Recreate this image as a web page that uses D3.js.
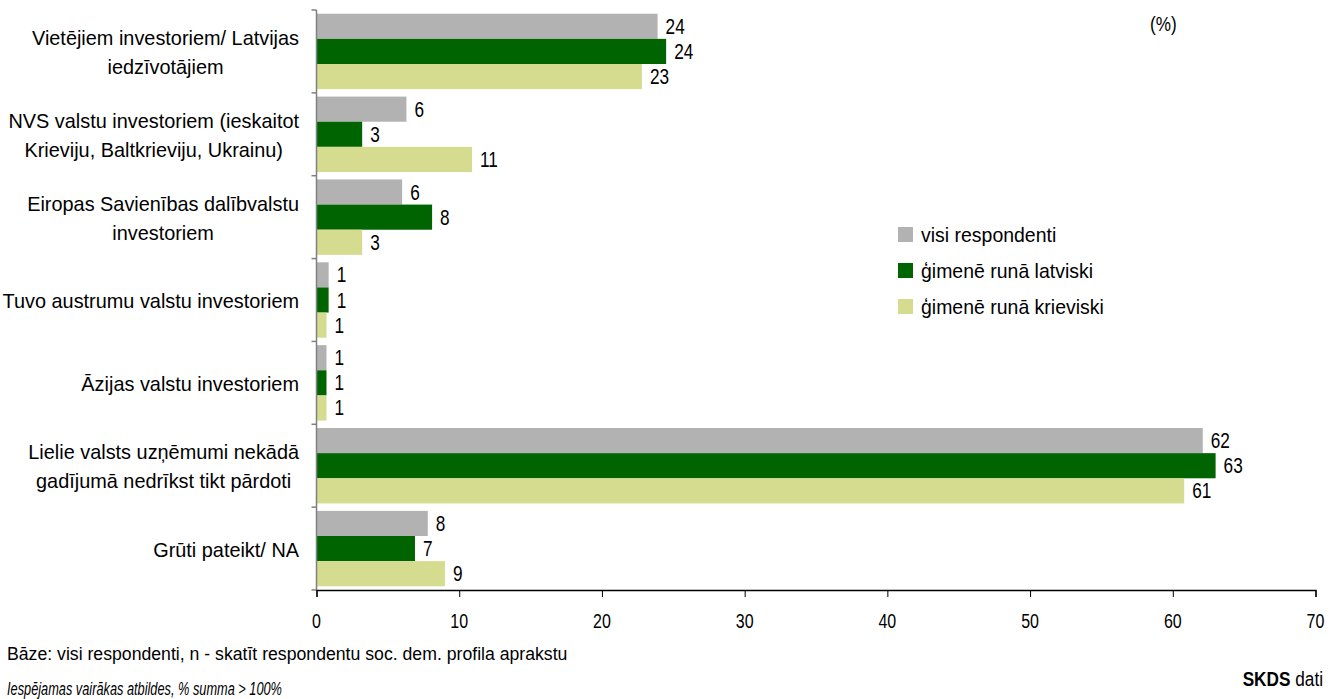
<!DOCTYPE html>
<html><head><meta charset="utf-8">
<script src="https://cdn.jsdelivr.net/npm/d3@7"></script>
<style>
body{margin:0;background:#fff;}
text{font-family:"Liberation Sans",Arial,sans-serif;fill:#000;}
</style></head><body>
<svg id="c" width="1336" height="699"></svg>
<script>
const categories = [
  ["Vietējiem investoriem/ Latvijas","iedzīvotājiem"],
  ["NVS valstu investoriem (ieskaitot","Krieviju, Baltkrieviju, Ukrainu)"],
  ["Eiropas Savienības dalībvalstu","investoriem"],
  ["Tuvo austrumu valstu investoriem"],
  ["Āzijas valstu investoriem"],
  ["Lielie valsts uzņēmumi nekādā","gadījumā nedrīkst tikt pārdoti"],
  ["Grūti pateikt/ NA"]
];
const seriesNames = ["visi respondenti","ģimenē runā latviski","ģimenē runā krieviski"];
const visi     = [23.9, 6.3, 6.0, 0.85, 0.7, 62.1, 7.8];
const latviski = [24.5, 3.2, 8.1, 0.85, 0.7, 63.0, 6.9];
const krieviski= [22.8, 10.9, 3.2, 0.7, 0.7, 60.8, 9.0];
const labelsVisi = [24, 6, 6, 1, 1, 62, 8];
const labelsLat  = [24, 3, 8, 1, 1, 63, 7];
const labelsKr   = [23, 11, 3, 1, 1, 61, 9];
const xTicks = [0,10,20,30,40,50,60,70];
const colors = ["#b2b2b2","#006400","#d5db8f"];

(function(){
const series = [visi, latviski, krieviski];
const labels = [labelsVisi, labelsLat, labelsKr];

const svg = d3.select("#c");
function txt(parent, X, Y, str, size, sx, anchor){
  return parent.append("text").attr("transform",`translate(${X},${Y}) scale(${sx},1)`)
    .attr("font-size",size).attr("text-anchor",anchor||"start").text(str);
}
const pl = 316.5, pr = 1315.5, pt = 10, pb = 590;
const x = d3.scaleLinear().domain([0,70]).range([pl,pr]);
const y = d3.scaleBand().domain(d3.range(categories.length)).range([pt,pb]).paddingInner(0.09).paddingOuter(0.045);
const ySub = d3.scaleBand().domain([0,1,2]).range([0,y.bandwidth()]);

series.forEach((vals,s)=>{
  svg.append("g").selectAll("rect").data(vals).join("rect")
    .attr("x", x(0)).attr("y",(d,i)=>y(i)+ySub(s))
    .attr("width", d=>x(d)-x(0)).attr("height", ySub.bandwidth())
    .attr("fill", colors[s]);
  const g = svg.append("g");
  vals.forEach((d,i)=>{
    txt(g, x(d)+8, y(i)+ySub(s)+ySub.bandwidth()/2+7.5, labels[s][i], 21.5, 0.8);
  });
});

const yb = d3.scaleLinear().domain([0,categories.length]).range([pt,pb]);
svg.append("line").attr("x1",pl).attr("x2",pl).attr("y1",pt).attr("y2",pb).attr("stroke","#808080").attr("stroke-width",1.5);
svg.append("g").selectAll("line").data(d3.range(categories.length+1)).join("line")
  .attr("x1",pl-5).attr("x2",pl).attr("y1",d=>yb(d)).attr("y2",d=>yb(d)).attr("stroke","#808080").attr("stroke-width",1.5);

const labRight = 299, labSx = 0.97, labSize = 20.5;
categories.forEach((lines,i)=>{
  const cy = yb(i+0.5);
  const n = lines.length;
  const g = svg.append("g");
  const nodes = lines.map((t,j)=> txt(g, 0, cy+(j-(n-1)/2)*29+8, t, labSize, labSx, "middle"));
  const w = d3.max(nodes, nd=>nd.node().getComputedTextLength()*labSx);
  const cx = labRight - w/2;
  nodes.forEach((nd,j)=> nd.attr("transform",`translate(${cx},${cy+(j-(n-1)/2)*29+8}) scale(${labSx},1)`));
});

const xAxis = svg.append("g").attr("transform",`translate(0,${pb})`)
  .call(d3.axisBottom(x).tickValues(xTicks).tickSize(7).tickFormat(""));
xAxis.select(".domain").attr("stroke","#000").attr("stroke-width",1.3);
xAxis.selectAll(".tick line").attr("stroke","#000");
const tg = svg.append("g");
xTicks.forEach(t=> txt(tg, x(t), 628, t, 20.5, 0.78, "middle"));

seriesNames.forEach((n,i)=>{
  const ly = 227 + i*36;
  svg.append("rect").attr("x",898).attr("y",ly).attr("width",15).attr("height",15).attr("fill",colors[i]);
  txt(svg, 921, ly+14.5, n, 20.5, 0.95);
});

txt(svg, 1150, 31, "(%)", 19.5, 0.88);
txt(svg, 7, 660, "Bāze: visi respondenti, n - skatīt respondentu soc. dem. profila aprakstu", 18.5, 0.955);
txt(svg, 7, 695, "Iespējamas vairākas atbildes, % summa > 100%", 18, 0.71).attr("font-style","italic");
const sk = txt(svg, 1323, 686, "", 20.5, 0.84, "end");
sk.append("tspan").attr("font-weight","bold").text("SKDS");
sk.append("tspan").text(" dati");
})();
</script></body></html>
